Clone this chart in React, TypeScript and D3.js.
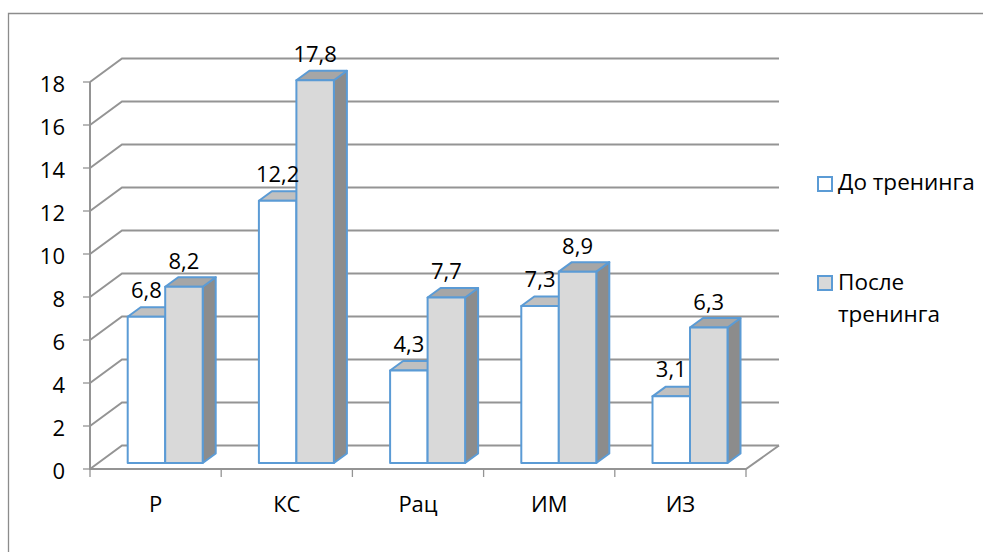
import React from "react";
import * as d3 from "d3";

const categories = ["Р", "КС", "Рац", "ИМ", "ИЗ"];
const before = [6.8, 12.2, 4.3, 7.3, 3.1];
const after = [8.2, 17.8, 7.7, 8.9, 6.3];
const beforeLabels = ["6,8", "12,2", "4,3", "7,3", "3,1"];
const afterLabels = ["8,2", "17,8", "7,7", "8,9", "6,3"];
const yTicks = [0, 2, 4, 6, 8, 10, 12, 14, 16, 18];

const W = 983, H = 552;
const font = "'Open Sans', sans-serif";
const grid = "#949494";
const blue = "#5B9BD5";
const wallDx = 32, wallDy = -23.5;
const barDx = 13, barDy = -9.5;

export default function App() {
  const y = d3.scaleLinear().domain([0, 18]).range([469, 82]);
  const band = d3.scaleBand<string>().domain(categories).range([90, 746]);
  const barW = 37.5;
  const baseY = 463;
  const unit = y(0) - y(1);
  const ticksX = [...categories.map((c) => band(c)!), 746];

  const bar = (x: number, v: number, top: string, side: string | null, front: string, key: string) => {
    const t = baseY - v * unit;
    const l = d3.line();
    return (
      <g key={key} stroke={blue} strokeWidth={2} strokeLinejoin="round">
        {side && (
          <path
            d={l([[x + barW, t], [x + barW + barDx, t + barDy], [x + barW + barDx, baseY + barDy], [x + barW, baseY]])!+"Z"}
            fill={side}
          />
        )}
        <path d={l([[x, t], [x + barDx, t + barDy], [x + barW + barDx, t + barDy], [x + barW, t]])! + "Z"} fill={top} />
        <rect x={x} y={t} width={barW} height={v * unit} fill={front} />
      </g>
    );
  };

  return (
    <svg width={W} height={H} style={{ position: "absolute", left: 0, top: 0, background: "#fff" }}>
      <path d={`M983.5,13.5H8.5V552`} fill="none" stroke="#8c8c8c" strokeWidth={1.3} />
      {/* walls */}
      <g stroke={grid} strokeWidth={2} fill="none">
        {yTicks.map((t) => (
          <g key={t}>
            <path d={`M90,${y(t)}l${wallDx},${wallDy}H${746 + wallDx + 1}`} />
            <path d={`M83,${y(t)}H90`} strokeWidth={1.3} />
          </g>
        ))}
        <path d={`M90,${y(18)}V${y(0)}H746l${wallDx + 1},${wallDy}`} />
        {ticksX.map((x, i) => (
          <path key={i} d={`M${x},469V477`} strokeWidth={1.3} />
        ))}
      </g>
      {/* axis labels */}
      <g fontFamily={font} fontSize={22} fill="#000">
        {yTicks.map((t) => (
          <text key={t} x={65} y={y(t) + 10} textAnchor="end">{t}</text>
        ))}
        {categories.map((c) => (
          <text key={c} x={band(c)! + band.bandwidth() / 2} y={512} textAnchor="middle">{c}</text>
        ))}
      </g>
      {/* bars */}
      {categories.map((c, i) => {
        const x = band(c)! + 37.7;
        return (
          <g key={c}>
            {bar(x, before[i], "#c0c0c0", "#8c8c8c", "#fff", "b")}
            {bar(x + barW, after[i], "#a6a6a6", "#8c8c8c", "#d9d9d9", "a")}
          </g>
        );
      })}
      {/* value labels */}
      <g fontFamily={font} fontSize={22} fill="#000" textAnchor="middle">
        {categories.map((c, i) => {
          const x = band(c)! + 37.7;
          return (
            <g key={c}>
              <text x={x + barW / 2} y={baseY - before[i] * unit - 19}>{beforeLabels[i]}</text>
              <text x={x + barW * 1.5} y={baseY - after[i] * unit - 18}>{afterLabels[i]}</text>
            </g>
          );
        })}
      </g>
      {/* legend */}
      <g stroke={blue} strokeWidth={2}>
        <rect x={818} y={177} width={14} height={14} fill="#fff" />
        <rect x={818} y={276} width={14} height={14} fill="#d9d9d9" />
      </g>
      <g fontFamily={font} fontSize={22.5} fill="#000">
        <text x={838} y={190}>До тренинга</text>
        <text x={838} y={290}>После</text>
        <text x={838} y={322}>тренинга</text>
      </g>
    </svg>
  );
}
